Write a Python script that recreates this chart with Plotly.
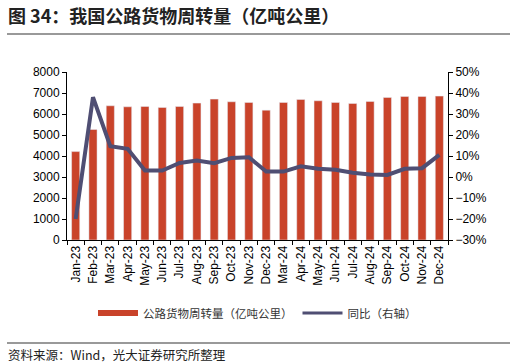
import plotly.graph_objects as go

categories = ["Jan-23","Feb-23","Mar-23","Apr-23","May-23","Jun-23","Jul-23","Aug-23","Sep-23","Oct-23","Nov-23","Dec-23",
              "Mar-24","Apr-24","May-24","Jun-24","Jul-24","Aug-24","Sep-24","Oct-24","Nov-24","Dec-24"]
volume = [4210, 5262, 6391, 6343, 6359, 6312, 6359, 6518, 6709, 6582, 6550, 6184,
          6550, 6693, 6630, 6550, 6502, 6598, 6789, 6836, 6836, 6852]
yoy = [-20.0, 38.0, 14.7, 13.4, 3.1, 3.1, 6.7, 7.8, 6.6, 9.1, 9.4, 2.6,
       2.6, 5.1, 3.9, 3.4, 2.0, 1.2, 1.0, 3.9, 4.2, 10.5]

title_text = "图 34：我国公路货物周转量（亿吨公里）"
source_text = "资料来源：Wind，光大证券研究所整理"
bar_name = "公路货物周转量（亿吨公里）"
line_name = "同比（右轴）"

bar_color = "#C9432A"
line_color = "#4F4E73"
num_font = "Liberation Sans, Arial, sans-serif"
cjk_font = "Noto Sans CJK SC, sans-serif"

fig = go.Figure()
fig.add_trace(go.Bar(x=categories, y=volume, name=bar_name, marker_color=bar_color,
                     width=0.47, yaxis="y", showlegend=False))
fig.add_trace(go.Scatter(x=categories, y=yoy, name=line_name, mode="lines",
                         line=dict(color=line_color, width=4), yaxis="y2", showlegend=False))
# legend entries (wide rectangle for bars, line for the ratio)
fig.add_trace(go.Scatter(x=[None], y=[None], name=bar_name, mode="lines",
                         line=dict(color=bar_color, width=6), yaxis="y"))
fig.add_trace(go.Scatter(x=[None], y=[None], name=line_name, mode="lines",
                         line=dict(color=line_color, width=3), yaxis="y2"))

fig.update_layout(
    width=516, height=364,
    margin=dict(l=67, r=68, t=72, b=124),
    paper_bgcolor="white", plot_bgcolor="white",
    font=dict(family=num_font, size=12, color="#000"),
    showlegend=True,
    legend=dict(orientation="h", x=0.5, xanchor="center", y=-0.435, yanchor="middle",
                font=dict(family=cjk_font, size=11.5, color="#333"),
                traceorder="normal", tracegroupgap=0, itemwidth=40),
    bargap=0.5,
    xaxis=dict(type="category", tickangle=-90, showline=True, linecolor="#000", linewidth=1,
               ticks="outside", ticklen=4, tickcolor="#000", tickson="boundaries",
               tickfont=dict(family=num_font, size=12), showgrid=False),
    yaxis=dict(range=[0, 8000], dtick=1000, showline=True, linecolor="#000", linewidth=1,
               ticks="outside", ticklen=4, tickcolor="#000", showgrid=False, zeroline=False,
               tickfont=dict(family=num_font, size=12)),
    yaxis2=dict(range=[-30, 50], dtick=10, overlaying="y", side="right", showline=True,
                linecolor="#000", linewidth=1, ticks="outside", ticklen=4, tickcolor="#000",
                showgrid=False, zeroline=False, ticksuffix="%",
                tickfont=dict(family=num_font, size=12)),
    annotations=[
        dict(text="<b>" + title_text + "</b>", xref="paper", yref="paper", x=-61/381, y=1 + (72-15)/168,
             xanchor="left", yanchor="middle", showarrow=False,
             font=dict(family=cjk_font, size=18, color="#222")),
        dict(text=source_text, xref="paper", yref="paper", x=-61/381, y=-(354-240)/168,
             xanchor="left", yanchor="middle", showarrow=False,
             font=dict(family=cjk_font, size=12.5, color="#222")),
    ],
    shapes=[
        dict(type="line", xref="paper", yref="paper", x0=-60/381, x1=(510-67)/381,
             y0=1 + (72-34)/168, y1=1 + (72-34)/168, line=dict(color="#777", width=1.5)),
        dict(type="line", xref="paper", yref="paper", x0=-60/381, x1=(510-67)/381,
             y0=-(343-240)/168, y1=-(343-240)/168, line=dict(color="#777", width=1.5)),
    ],
)

fig.write_html("out.html", config={"displayModeBar": False},
               post_script="document.body.style.margin='0';")
